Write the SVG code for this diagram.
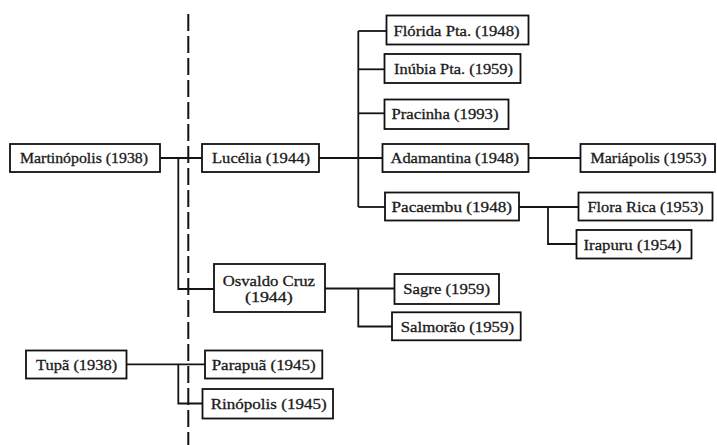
<svg xmlns="http://www.w3.org/2000/svg" width="717" height="445" viewBox="0 0 717 445">
  <style>
    .box rect { fill: #ffffff; stroke: #111111; stroke-width: 1.8; }
    .box text { font-family: "Liberation Serif", "Times New Roman", serif; font-size: 15px; fill: #1a1a1a; stroke: #1a1a1a; stroke-width: 0.3; }
    .wire { fill: none; stroke: #141414; stroke-width: 1.8; }
    .divider { fill: none; stroke: #111111; stroke-width: 2; stroke-dasharray: 17 5; }
  </style>
  <rect x="0" y="0" width="717" height="445" fill="#ffffff"/>

  <!-- vertical dashed divider -->
  <line class="divider" x1="188.3" y1="14" x2="188.3" y2="445"/>

  <!-- connectors -->
  <g id="connectors" class="wire">
    <!-- Martinópolis to Lucélia and Osvaldo Cruz -->
    <path d="M160.5 158 H202"/>
    <path d="M178.3 158 V289 H214"/>
    <!-- Lucélia branch -->
    <path d="M319 158 H382.5"/>
    <path d="M358.3 31 V207"/>
    <path d="M358.3 31 H386.5"/>
    <path d="M358.3 69.3 H384.5"/>
    <path d="M358.3 113.3 H384.5"/>
    <path d="M358.3 207 H385"/>
    <!-- Adamantina to Mariápolis -->
    <path d="M529 158 H580.5"/>
    <!-- Pacaembu branch -->
    <path d="M519 207 H578.5"/>
    <path d="M548 207 V244 H576.5"/>
    <!-- Osvaldo Cruz branch -->
    <path d="M325 288.5 H358.3"/>
    <path d="M358.3 288.5 V326.5 H392"/>
    <path d="M358.3 288.5 H394.5"/>
    <!-- Tupã branch -->
    <path d="M126.7 364.3 H205"/>
    <path d="M178.3 364.3 V403.5 H202.5"/>
  </g>

  <g id="martinopolis" class="box">
    <rect x="10" y="144" width="150" height="28"/>
    <text x="20" y="163" textLength="128" lengthAdjust="spacingAndGlyphs">Martinópolis (1938)</text>
  </g>
  <g id="lucelia" class="box">
    <rect x="202" y="144" width="117" height="28"/>
    <text x="212" y="163" textLength="98" lengthAdjust="spacingAndGlyphs">Lucélia (1944)</text>
  </g>
  <g id="florida-pta" class="box">
    <rect x="386.5" y="15.5" width="142" height="29"/>
    <text x="393.5" y="35.5" textLength="126" lengthAdjust="spacingAndGlyphs">Flórida Pta. (1948)</text>
  </g>
  <g id="inubia-pta" class="box">
    <rect x="384.5" y="54" width="136" height="29"/>
    <text x="394" y="74" textLength="119" lengthAdjust="spacingAndGlyphs">Inúbia Pta. (1959)</text>
  </g>
  <g id="pracinha" class="box">
    <rect x="384.5" y="99.5" width="124" height="29.5"/>
    <text x="391.5" y="119" textLength="107" lengthAdjust="spacingAndGlyphs">Pracinha (1993)</text>
  </g>
  <g id="adamantina" class="box">
    <rect x="382.5" y="144" width="146" height="28"/>
    <text x="390.5" y="163" textLength="128.5" lengthAdjust="spacingAndGlyphs">Adamantina (1948)</text>
  </g>
  <g id="mariapolis" class="box">
    <rect x="580.5" y="144" width="134.5" height="28"/>
    <text x="590.5" y="163" textLength="116" lengthAdjust="spacingAndGlyphs">Mariápolis (1953)</text>
  </g>
  <g id="pacaembu" class="box">
    <rect x="385" y="192.5" width="134" height="28"/>
    <text x="391.5" y="212" textLength="120.5" lengthAdjust="spacingAndGlyphs">Pacaembu (1948)</text>
  </g>
  <g id="flora-rica" class="box">
    <rect x="578.5" y="192.5" width="134" height="28"/>
    <text x="587.5" y="212" textLength="116" lengthAdjust="spacingAndGlyphs">Flora Rica (1953)</text>
  </g>
  <g id="irapuru" class="box">
    <rect x="576.5" y="230" width="115" height="28.5"/>
    <text x="583.5" y="249.5" textLength="98" lengthAdjust="spacingAndGlyphs">Irapuru (1954)</text>
  </g>
  <g id="osvaldo-cruz" class="box">
    <rect x="214" y="264" width="111" height="48"/>
    <text x="222.7" y="285.5" textLength="92.3" lengthAdjust="spacingAndGlyphs">Osvaldo Cruz</text>
    <text x="245" y="302" textLength="47.7" lengthAdjust="spacingAndGlyphs">(1944)</text>
  </g>
  <g id="sagre" class="box">
    <rect x="394.5" y="274" width="104.5" height="30"/>
    <text x="403.3" y="294.3" textLength="86.7" lengthAdjust="spacingAndGlyphs">Sagre (1959)</text>
  </g>
  <g id="salmorao" class="box">
    <rect x="392" y="312.3" width="128.7" height="28"/>
    <text x="400.7" y="331.5" textLength="113.3" lengthAdjust="spacingAndGlyphs">Salmorão (1959)</text>
  </g>
  <g id="tupa" class="box">
    <rect x="26" y="350.5" width="100.5" height="28"/>
    <text x="36" y="369.5" textLength="81.3" lengthAdjust="spacingAndGlyphs">Tupã (1938)</text>
  </g>
  <g id="parapua" class="box">
    <rect x="205" y="350.5" width="117.3" height="28"/>
    <text x="211.7" y="369.5" textLength="104" lengthAdjust="spacingAndGlyphs">Parapuã (1945)</text>
  </g>
  <g id="rinopolis" class="box">
    <rect x="202.5" y="389" width="130.5" height="29.5"/>
    <text x="210.7" y="408.5" textLength="116" lengthAdjust="spacingAndGlyphs">Rinópolis  (1945)</text>
  </g>
</svg>
